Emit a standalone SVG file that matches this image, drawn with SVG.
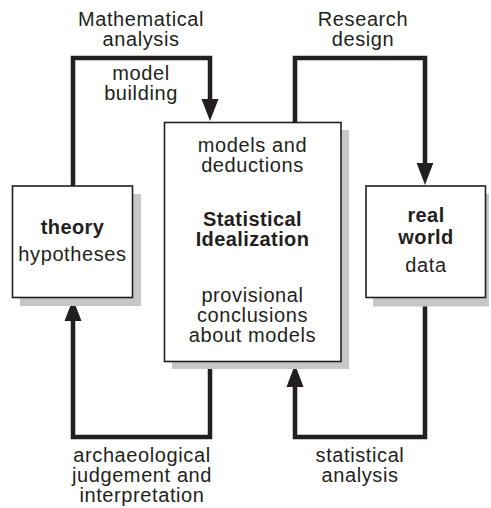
<svg xmlns="http://www.w3.org/2000/svg" width="491" height="508" viewBox="0 0 491 508">
<style>
.bg{fill:#ffffff}
.shadow{fill:#c6c7c9}
.box{fill:#ffffff;stroke:#231f20;stroke-width:1.6}
.flow{fill:none;stroke:#231f20;stroke-width:4.5;stroke-linejoin:miter}
.head{fill:#231f20}
text{font-family:"Liberation Sans",Arial,sans-serif;font-size:20px;letter-spacing:0.6px;fill:#231f20;text-anchor:middle}
.b{font-weight:bold;letter-spacing:0.4px}
</style>
<rect class="bg" x="0" y="0" width="491" height="508"/>
<g id="connectors">
  <path class="flow" d="M73,186 V58 H210 V102"/>
  <polygon class="head" points="201.5,99 218.5,99 210,121"/>
  <path class="flow" d="M295,122 V58 H425 V166"/>
  <polygon class="head" points="416.7,163 433.3,163 425,185"/>
  <path class="flow" d="M210,362 V437 H73 V318"/>
  <polygon class="head" points="64.5,321 81.5,321 73,299"/>
  <path class="flow" d="M425,298 V437 H295 V384"/>
  <polygon class="head" points="286.5,387 303.5,387 295,364.5"/>
</g>
<g id="labels">
  <text x="141" y="26">Mathematical</text>
  <text x="141" y="46">analysis</text>
  <text x="141" y="80">model</text>
  <text x="141" y="100">building</text>
  <text x="363" y="26">Research</text>
  <text x="363" y="46">design</text>
  <text x="142" y="462">archaeological</text>
  <text x="142" y="482">judgement and</text>
  <text x="142" y="502">interpretation</text>
  <text x="360" y="462">statistical</text>
  <text x="360" y="482">analysis</text>
</g>
<g id="theory">
  <rect class="shadow" x="20" y="194" width="121" height="112"/>
  <rect class="box" x="12.5" y="186" width="120" height="111.5"/>
  <text class="b" x="72.5" y="234">theory</text>
  <text x="72.5" y="261">hypotheses</text>
</g>
<g id="statistical-idealization">
  <rect class="shadow" x="172" y="130" width="177" height="239"/>
  <rect class="box" x="164.5" y="122.5" width="176.5" height="239"/>
  <text x="252.5" y="152">models and</text>
  <text x="252.5" y="172">deductions</text>
  <text class="b" x="252.5" y="226">Statistical</text>
  <text class="b" x="252.5" y="246">Idealization</text>
  <text x="252.5" y="302">provisional</text>
  <text x="252.5" y="322">conclusions</text>
  <text x="252.5" y="342">about models</text>
</g>
<g id="real-world">
  <rect class="shadow" x="373" y="194" width="116" height="112.5"/>
  <rect class="box" x="366" y="186" width="119.5" height="111.5"/>
  <text class="b" x="426" y="222">real</text>
  <text class="b" x="426" y="244">world</text>
  <text x="426" y="272">data</text>
</g>
</svg>
